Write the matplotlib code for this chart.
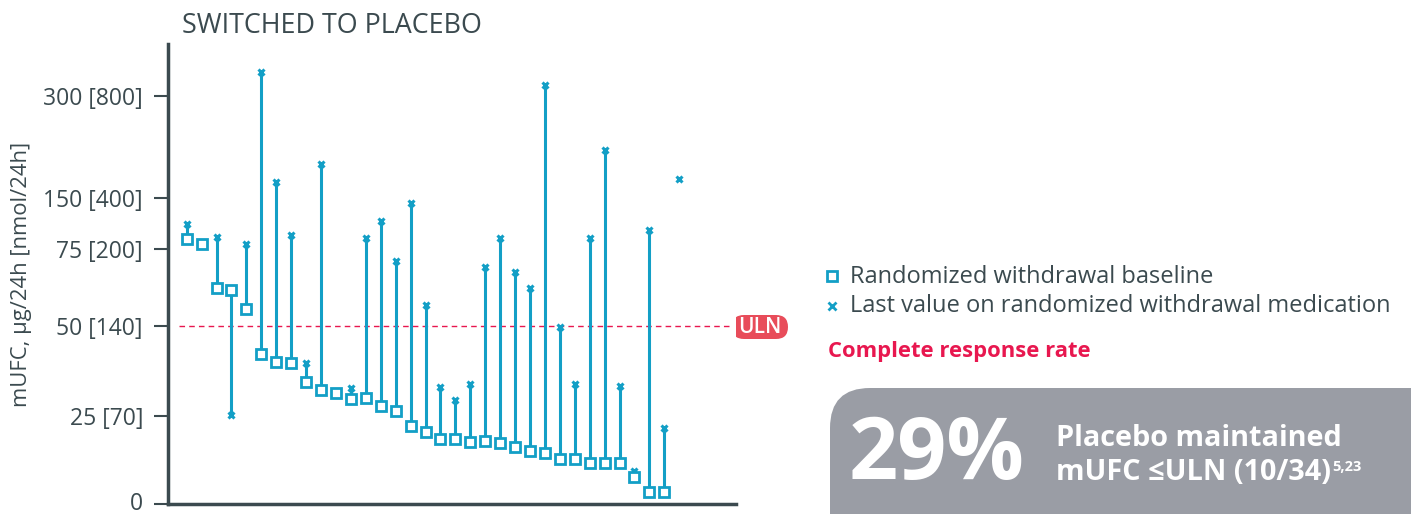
import numpy as np
import matplotlib
matplotlib.use("Agg")
import matplotlib.pyplot as plt
import matplotlib.transforms as mtransforms
from matplotlib.patches import FancyBboxPatch

plt.rcParams["font.family"] = ["Open Sans", "DejaVu Sans"]

# ── Data (mUFC, ug/24h) ───────────────────────────────────────────────────────
baseline = [88.7, 82.8, 62.2, 61.5, 55.5, 42.1, 40.1, 39.8, 34.4, 32.3,
            31.3, 29.7, 29.9, 27.8, 26.3, 22.2, 20.5, 18.4, 18.4, 17.6,
            17.8, 17.2, 16.1, 15.0, 14.4, 12.9, 12.7, 11.7, 11.6, 11.6,
            7.6, 3.3, 3.3, np.nan]
last_value = [111.3, np.nan, 93.1, 25.3, 82.4, 334.9, 172.5, 95.1, 39.6, 199.6,
              np.nan, 32.7, 91.6, 116.2, 71.2, 142.6, 56.9, 33.1, 29.4, 33.8,
              69.1, 91.2, 67.4, 62.2, 315.1, 49.6, 33.8, 91.6, 220.6, 33.4,
              9.5, 102.5, 21.5, 176.9]
ULN = 50

tick_vals   = [0, 25, 50, 75, 150, 300]
tick_labels = ["0", "25 [70]", "50 [140]", "75 [200]", "150 [400]", "300 [800]"]

# broken (piecewise) axis as drawn in the source figure
scale_vals = [-50, 0, 25, 50, 75, 150, 300, 400]
scale_pos  = [-176, 0, 88, 178, 255, 306, 408, 476]

TEAL = "#139fc6"
DARK = "#3b4a4f"
RED = "#e8174f"

fig = plt.figure(figsize=(14.11, 5.14), dpi=100)
ax = fig.add_axes([168 / 1411, 10 / 514, 568 / 1411, 460 / 514])

ax.set_yscale("function", functions=(lambda v: np.interp(v, scale_vals, scale_pos),
                                     lambda p: np.interp(p, scale_pos, scale_vals)))

x = np.arange(len(baseline))
base = np.array(baseline)
last = np.array(last_value)
ok = ~np.isnan(base) & ~np.isnan(last)
ax.vlines(x[ok], base[ok], last[ok], color=TEAL, lw=2.2, zorder=2)
ax.plot(x, last, ls="none", marker="x", ms=5, mew=2.2, color=TEAL, zorder=3)
ax.plot(x, base, ls="none", marker="s", ms=7.5, mew=2, mfc="white", mec=TEAL, zorder=4)

ax.axhline(ULN, xmin=0.02, xmax=0.989, color=RED, lw=1, ls=(0, (4, 3)), zorder=1)

ax.set_xlim(-1.25, 36.8)
ax.set_ylim(0, 376)
ax.set_xticks([])
ax.set_yticks(tick_vals)
ax.set_yticklabels(tick_labels, fontsize=16.5, color=DARK)
ax.tick_params(axis="y", length=10, width=1.5, color=DARK, pad=8)
# keep the bottom "0" label inside the canvas
zero_lbl = ax.get_yticklabels()[0]
zero_lbl.set_transform(zero_lbl.get_transform() +
                       mtransforms.ScaledTranslation(0, 3 / 100, fig.dpi_scale_trans))
for s in ["top", "right"]:
    ax.spines[s].set_visible(False)
for s in ["left", "bottom"]:
    ax.spines[s].set_color(DARK)
    ax.spines[s].set_linewidth(2.5)
ax.set_ylabel("mUFC, µg/24h [nmol/24h]", fontsize=15.8, color=DARK, labelpad=8)
ax.set_title("SWITCHED TO PLACEBO", fontsize=19.4, color=DARK, loc="left",
             x=0.025, pad=8)

# ── Right-hand panel in pixel coordinates ─────────────────────────────────────
ov = fig.add_axes([0, 0, 1, 1], zorder=-1)
ov.set_xlim(0, 1411)
ov.set_ylim(514, 0)
ov.axis("off")
ov.patch.set_alpha(0)

ov.add_patch(FancyBboxPatch((732, 315), 56, 24, boxstyle="round,pad=0,rounding_size=12",
                            fc="#e84c5a", ec="none"))
ov.text(760, 327.5, "ULN", color="white", fontsize=15, weight="semibold",
        ha="center", va="center")

ov.plot([832], [276], marker="s", ms=6.5, mew=2, mfc="white", mec=TEAL, ls="none")
ov.plot([832], [306], marker="x", ms=6, mew=2, color=TEAL, ls="none")
ov.text(850, 277, "Randomized withdrawal baseline", fontsize=17, color=DARK, va="center")
ov.text(850, 306, "Last value on randomized withdrawal medication", fontsize=17,
        color=DARK, va="center")
ov.text(828, 352, "Complete response rate", fontsize=15.8, color=RED, weight="bold",
        va="center")

ov.add_patch(FancyBboxPatch((830, 388), 640, 200, boxstyle="round,pad=0,rounding_size=40",
                            fc="#9a9da5", ec="none"))
ov.text(849, 456, "29%", fontsize=62, color="white", weight="bold", va="center")
ov.text(1056, 438, "Placebo maintained", fontsize=20.8, color="white", weight="bold",
        va="center")
t = ov.text(1056, 472, "mUFC ≤ULN (10/34)", fontsize=20.8, color="white", weight="bold",
            va="center")
ov.annotate("5,23", xy=(1, 1), xycoords=t, xytext=(1, -2), textcoords="offset points",
            fontsize=10.5, color="white", weight="bold", va="top", ha="left")

fig.savefig("out.png", dpi=100)
